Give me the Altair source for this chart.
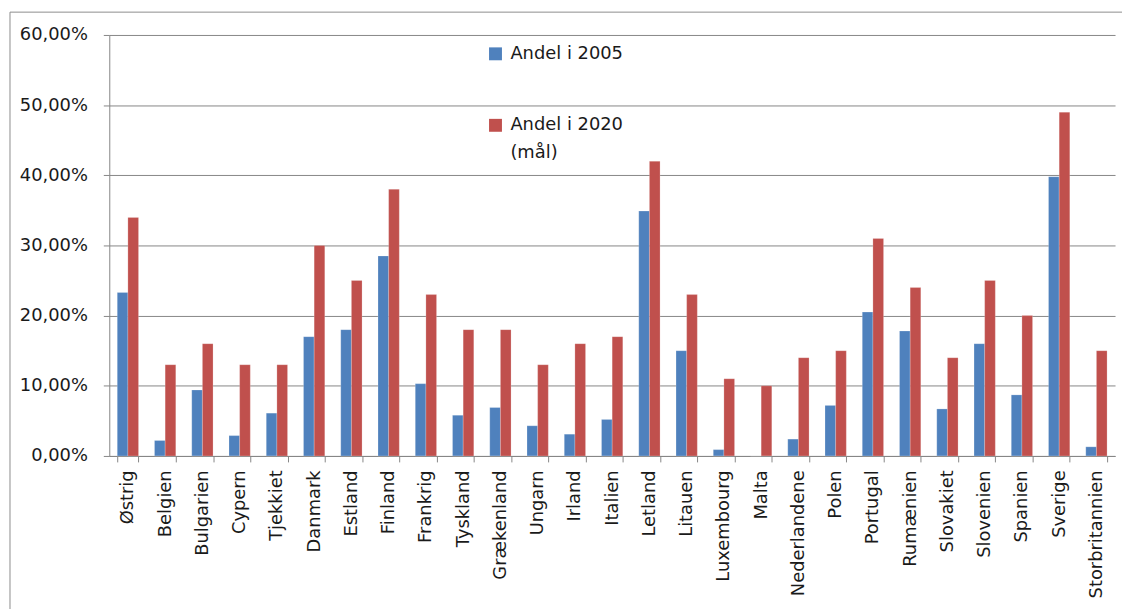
import altair as alt
import pandas as pd

countries = ["Østrig", "Belgien", "Bulgarien", "Cypern", "Tjekkiet", "Danmark", "Estland",
             "Finland", "Frankrig", "Tyskland", "Grækenland", "Ungarn", "Irland", "Italien",
             "Letland", "Litauen", "Luxembourg", "Malta", "Nederlandene", "Polen", "Portugal",
             "Rumænien", "Slovakiet", "Slovenien", "Spanien", "Sverige", "Storbritannien"]
andel_2005 = [0.233, 0.022, 0.094, 0.029, 0.061, 0.170, 0.180, 0.285, 0.103, 0.058, 0.069,
              0.043, 0.031, 0.052, 0.349, 0.150, 0.009, 0.000, 0.024, 0.072, 0.205, 0.178,
              0.067, 0.160, 0.087, 0.398, 0.013]
andel_2020 = [0.34, 0.13, 0.16, 0.13, 0.13, 0.30, 0.25, 0.38, 0.23, 0.18, 0.18, 0.13, 0.16,
              0.17, 0.42, 0.23, 0.11, 0.10, 0.14, 0.15, 0.31, 0.24, 0.14, 0.25, 0.20, 0.49, 0.15]
series = ["Andel i 2005", "Andel i 2020 (mål)"]
colors = ["#4F81BD", "#C0504D"]

rows = []
for c, a, b in zip(countries, andel_2005, andel_2020):
    rows.append({"land": c, "serie": series[0], "andel": a})
    rows.append({"land": c, "serie": series[1], "andel": b})
df = pd.DataFrame(rows)

FONT = "DejaVu Sans"
TXT = "#1a1a1a"

bars = alt.Chart(df).mark_bar(stroke="#ffffff", strokeOpacity=0.35, strokeWidth=0.6).encode(
    x=alt.X("land:N", sort=countries,
            scale=alt.Scale(paddingInner=0.4286, paddingOuter=0.2143),
            axis=alt.Axis(title=None, labelAngle=-90, labelAlign="right", labelBaseline="middle",
                          tickBand="extent", ticks=True, tickSize=6, tickColor="#868686",
                          domainColor="#868686", labelPadding=8, labelFontSize=18,
                          labelFont=FONT, labelColor=TXT, grid=False, labelLimit=400)),
    xOffset=alt.XOffset("serie:N", sort=series, scale=alt.Scale(paddingInner=0, paddingOuter=0)),
    y=alt.Y("andel:Q", scale=alt.Scale(domain=[0, 0.6], nice=False),
            axis=alt.Axis(title=None, values=[0, 0.1, 0.2, 0.3, 0.4, 0.5, 0.6],
                          labelExpr="replace(format(datum.value, '.2%'), '.', ',')",
                          tickSize=6, tickColor="#868686", domainColor="#868686",
                          gridColor="#868686", gridWidth=1, labelPadding=16,
                          labelFontSize=18, labelFont=FONT, labelColor=TXT)),
    color=alt.Color("serie:N", sort=series, scale=alt.Scale(domain=series, range=colors),
                    legend=alt.Legend(title=None, orient="none", legendX=380, legendY=10,
                                      direction="vertical", symbolType="square", symbolSize=169,
                                      symbolStrokeWidth=0, rowPadding=54, labelFontSize=18,
                                      labelFont=FONT, labelColor=TXT, labelOffset=6,
                                      labelBaseline="middle",
                                      labelExpr="datum.label == 'Andel i 2020 (mål)' ? ['Andel i 2020', '(mål)'] : datum.label")),
)

border = alt.Chart(pd.DataFrame({"k": [0]})).mark_rect(
    fill=None, stroke="#8c8c8c", strokeWidth=1, clip=False).encode(
    x=alt.value(-100), x2=alt.value(1200), y=alt.value(-23), y2=alt.value(700))

chart = alt.layer(border, bars).properties(
    width=1013, height=424,
    autosize=alt.AutoSizeParams(type="none"),
    padding={"left": 102, "top": 25, "right": 7, "bottom": 152},
).configure(background="white", style={"guide-label": {"lineHeight": 28}}).configure_view(stroke=None)

chart.save("out.html", embed_options={"renderer": "svg", "actions": False})
